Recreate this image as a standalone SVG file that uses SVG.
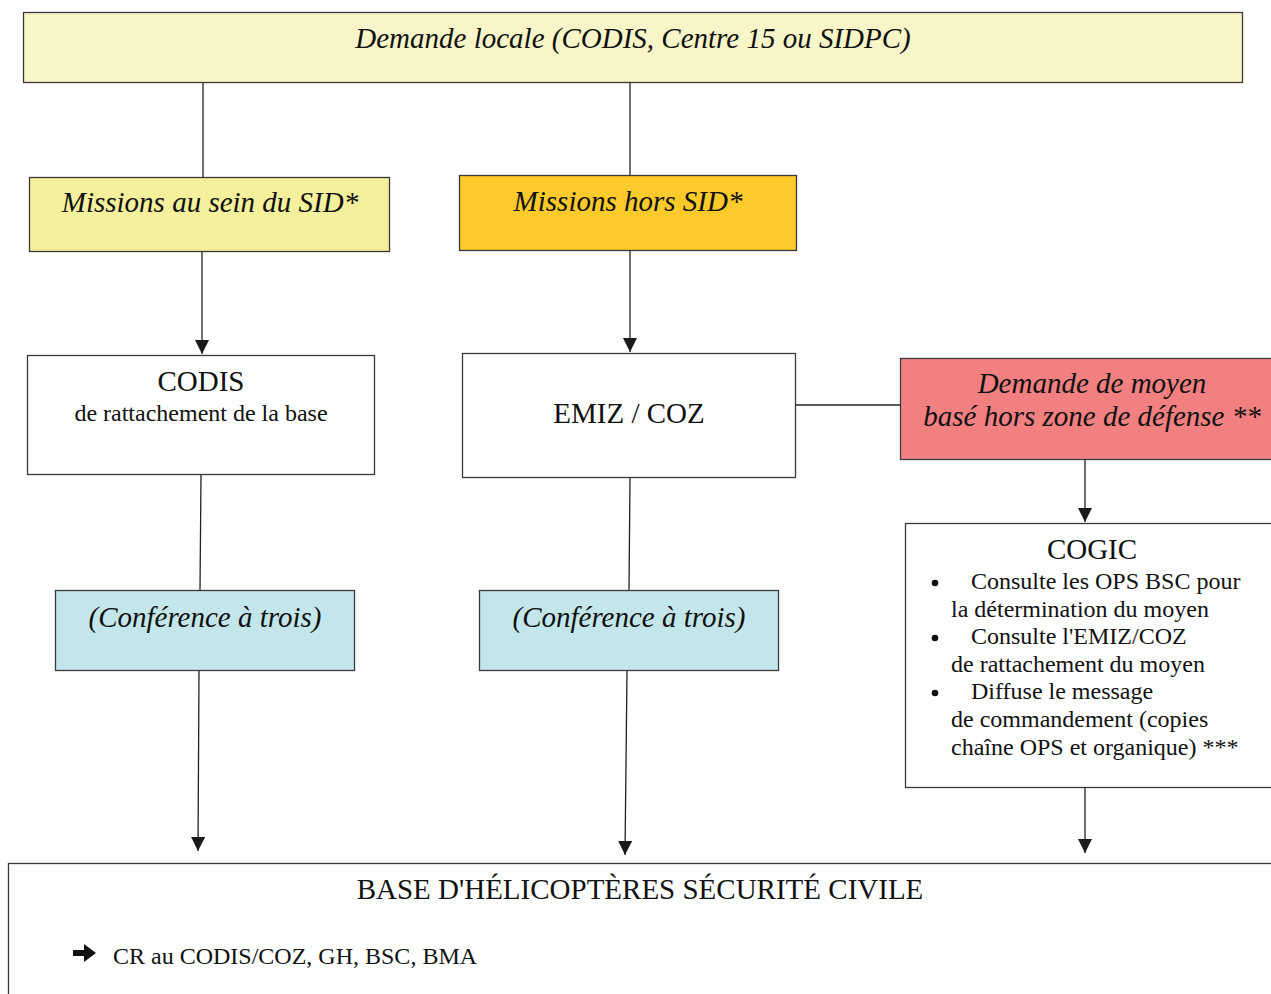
<svg xmlns="http://www.w3.org/2000/svg" width="1271" height="994" viewBox="0 0 1271 994">
<style>
.box{stroke:#3a3a3a;stroke-width:1.3}
.t{font-family:"Liberation Serif","Times New Roman",serif;fill:#111}
.i{font-style:italic}
.c{text-anchor:middle}
.ln{stroke:#222;stroke-width:1.3;fill:none}
</style>
<defs>
<marker id="arr" markerWidth="14" markerHeight="14" refX="14" refY="7" orient="auto" markerUnits="userSpaceOnUse" viewBox="0 0 14 14">
<path d="M0,0 L14,7 L0,14 Z" fill="#1a1a1a"/>
</marker>
</defs>
<rect width="1271" height="994" fill="#fff"/>
<g id="connectors">
<line class="ln" x1="203" y1="83" x2="203" y2="177"/>
<line class="ln" x1="630" y1="83" x2="630" y2="175"/>
<line class="ln" x1="202" y1="252" x2="202" y2="354" marker-end="url(#arr)"/>
<line class="ln" x1="630" y1="251" x2="630" y2="352" marker-end="url(#arr)"/>
<line class="ln" x1="796" y1="405" x2="900" y2="405"/>
<line class="ln" x1="1085" y1="460" x2="1085" y2="522" marker-end="url(#arr)"/>
<line class="ln" x1="201" y1="475" x2="200" y2="590"/>
<line class="ln" x1="630" y1="478" x2="629" y2="590"/>
<line class="ln" x1="199" y1="671" x2="198" y2="851" marker-end="url(#arr)"/>
<line class="ln" x1="627" y1="671" x2="625" y2="855" marker-end="url(#arr)"/>
<line class="ln" x1="1085" y1="788" x2="1085" y2="853" marker-end="url(#arr)"/>
</g>
<g id="demande-locale">
<rect class="box" x="23.5" y="12.5" width="1219" height="70" fill="#f8f6c8"/>
<text class="t i c" x="633" y="48" font-size="29">Demande locale (CODIS, Centre 15 ou SIDPC)</text>
</g>
<g id="missions-sid">
<rect class="box" x="29.5" y="177.5" width="360" height="74" fill="#f4f09c"/>
<text class="t i c" x="210" y="212" font-size="29">Missions au sein du SID*</text>
</g>
<g id="missions-hors-sid">
<rect class="box" x="459.5" y="175.5" width="337" height="75" fill="#fdca2b"/>
<text class="t i c" x="628" y="211" font-size="29">Missions hors SID*</text>
</g>
<g id="codis">
<rect class="box" x="27.5" y="355.5" width="347" height="119" fill="#fff"/>
<text class="t c" x="201" y="391" font-size="29">CODIS</text>
<text class="t c" x="201" y="421" font-size="24">de rattachement de la base</text>
</g>
<g id="emiz-coz">
<rect class="box" x="462.5" y="353.5" width="333" height="124" fill="#fff"/>
<text class="t c" x="629" y="423" font-size="29">EMIZ / COZ</text>
</g>
<g id="demande-moyen">
<rect class="box" x="900.5" y="358.5" width="375" height="101" fill="#f28080"/>
<text class="t i c" x="1092" y="393" font-size="29">Demande de moyen</text>
<text class="t i c" x="1092" y="426" font-size="29">basé hors zone de défense **</text>
</g>
<g id="cogic">
<rect class="box" x="905.5" y="523.5" width="370" height="264" fill="#fff"/>
<text class="t c" x="1092" y="559" font-size="29">COGIC</text>
<g class="t" font-size="24">
<circle cx="935" cy="583" r="3.3" fill="#111"/>
<text x="971" y="589">Consulte les OPS BSC pour</text>
<text x="951" y="617">la détermination du moyen</text>
<circle cx="935" cy="638" r="3.3" fill="#111"/>
<text x="971" y="644">Consulte l'EMIZ/COZ</text>
<text x="951" y="672">de rattachement du moyen</text>
<circle cx="935" cy="693" r="3.3" fill="#111"/>
<text x="971" y="699">Diffuse le message</text>
<text x="951" y="727">de commandement (copies</text>
<text x="951" y="755">chaîne OPS et organique) ***</text>
</g>
</g>
<g id="conference-1">
<rect class="box" x="55.5" y="590.5" width="299" height="80" fill="#c3e6ea"/>
<text class="t i c" x="205" y="627" font-size="29">(Conférence à trois)</text>
</g>
<g id="conference-2">
<rect class="box" x="479.5" y="590.5" width="299" height="80" fill="#c3e6ea"/>
<text class="t i c" x="629" y="627" font-size="29">(Conférence à trois)</text>
</g>
<g id="base">
<rect class="box" x="8.5" y="863.5" width="1268" height="140" fill="#fff"/>
<text class="t c" x="640" y="899" font-size="29">BASE D'HÉLICOPTÈRES SÉCURITÉ CIVILE</text>
<path d="M73,950 L84,950 L84,944 L96,953 L84,962 L84,956 L73,956 Z" fill="#111"/>
<text class="t" x="113" y="964" font-size="24">CR au CODIS/COZ, GH, BSC, BMA</text>
</g>
</svg>
